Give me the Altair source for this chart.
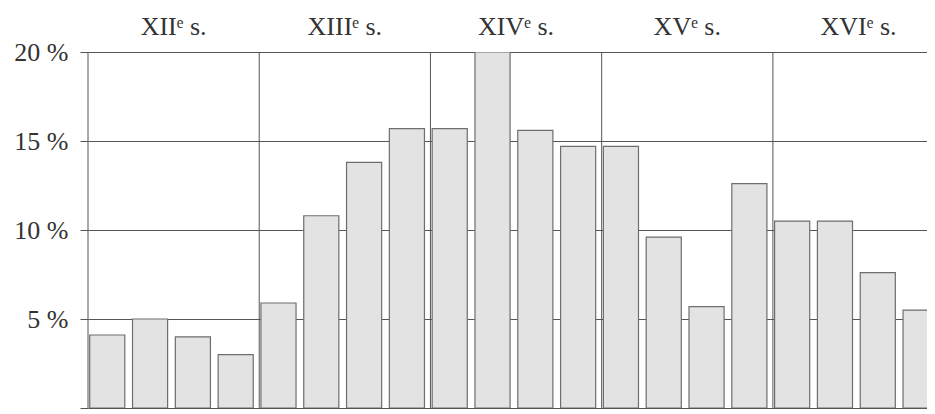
import altair as alt
import pandas as pd

# Share of each quarter-century (%)
values = [4.1, 5.0, 4.0, 3.0,
          5.9, 10.8, 13.8, 15.7,
          15.7, 20.0, 15.6, 14.7,
          14.7, 9.6, 5.7, 12.6,
          10.5, 10.5, 7.6, 5.5]
centuries = ["XIIᵉ s.", "XIIIᵉ s.", "XIVᵉ s.", "XVᵉ s.", "XVIᵉ s."]
bars_per_century = 4
y_ticks = [0, 5, 10, 15, 20]

bars_df = pd.DataFrame({"idx": list(range(len(values))), "pct": values})
cent_df = pd.DataFrame({
    "century": centuries,
    "start": [i * bars_per_century for i in range(len(centuries))],
})

SERIF = "Liberation Serif"
LINE = "#555555"
TEXT = "#333333"

xscale = alt.Scale(domain=[0, 19.6], nice=False, zero=False)
yscale = alt.Scale(domain=[0, 20], nice=False)

yaxis = alt.Axis(
    values=y_ticks, grid=True, gridColor=LINE, gridWidth=1, gridOpacity=1,
    domain=False, ticks=True, tickSize=8, tickColor=LINE, tickWidth=1,
    labelExpr="datum.value == 0 ? '' : datum.value + ' %'",
    labelFont=SERIF, labelFontSize=26, labelColor=TEXT, labelPadding=12,
    title=None,
)

dividers = alt.Chart(cent_df).mark_rule(color=LINE, strokeWidth=1).encode(
    x=alt.X("start:Q", scale=xscale, axis=None),
    y=alt.Y(datum=0, type="quantitative", scale=yscale, axis=yaxis),
    y2=alt.Y2(datum=20),
)

bars = alt.Chart(bars_df).transform_calculate(
    x0="datum.idx + 0.04", x1="datum.idx + 0.86"
).mark_bar(fill="#e3e3e3", stroke="#6e6e6e", strokeWidth=1.2, clip=True).encode(
    x=alt.X("x0:Q", scale=xscale, axis=None),
    x2="x1:Q",
    y=alt.Y("pct:Q", scale=yscale, axis=yaxis),
    y2=alt.Y2(datum=0),
)

labels = alt.Chart(cent_df).transform_calculate(
    center="datum.start + 2"
).mark_text(font=SERIF, fontSize=26, color=TEXT, align="center",
            baseline="alphabetic").encode(
    x=alt.X("center:Q", scale=xscale, axis=None),
    y=alt.value(-17),
    text="century:N",
)

chart = alt.layer(dividers, bars, labels).properties(
    width=839, height=356,
    autosize=alt.AutoSizeParams(type="none"),
    padding={"left": 80, "top": 44, "right": 0, "bottom": 2},
    background="white",
).configure_view(stroke=None)

chart.save("out.html", embed_options={"renderer": "svg", "actions": False})
